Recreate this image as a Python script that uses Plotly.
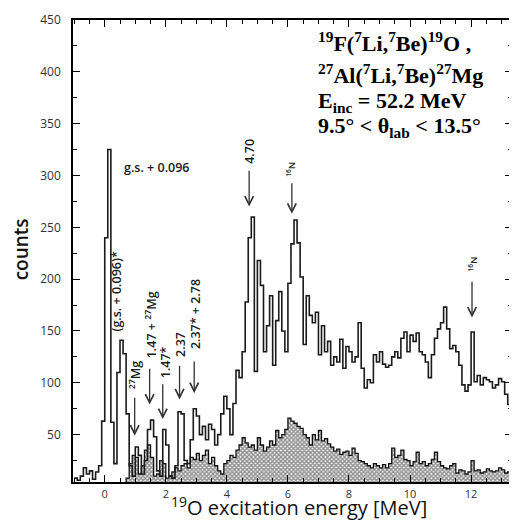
import numpy as np
import plotly.graph_objects as go

# ---- data: 0.1 MeV bins starting at -1.0 MeV ----
E_START = -1.0
BIN = 0.1

total_counts = [
    8, 6, 10, 18, 12, 15, 7, 14, 20, 63,          # -1.0 .. -0.1
    240, 325, 62, 22, 110, 141, 128, 70, 20, 10,   # 0.0 .. 0.9
    38, 30, 12, 25, 55, 64, 48, 15, 10, 55,       # 1.0 .. 1.9
    40, 10, 8, 20, 72, 70, 25, 22, 45, 75,        # 2.0 .. 2.9
    68, 50, 58, 45, 60, 55, 40, 50, 70, 87,       # 3.0 .. 3.9
    75, 50, 80, 112, 105, 130, 178, 240, 260, 111,  # 4.0 .. 4.9
    218, 194, 130, 155, 184, 117, 160, 188, 150, 130,  # 5.0 .. 5.9
    196, 234, 257, 235, 202, 137, 184, 165, 158, 168,  # 6.0 .. 6.9
    127, 155, 130, 140, 117, 125, 120, 142, 114, 135,  # 7.0 .. 7.9
    130, 120, 125, 158, 114, 95, 103, 100, 127, 120,   # 8.0 .. 8.9
    130, 118, 115, 117, 125, 130, 124, 143, 149, 130,  # 9.0 .. 9.9
    146, 140, 148, 130, 127, 120, 105, 127, 143, 152,  # 10.0 .. 10.9
    158, 173, 152, 133, 136, 130, 117, 98, 92, 98,     # 11.0 .. 11.9
    149, 101, 107, 98, 105, 103, 101, 95, 98, 104,     # 12.0 .. 12.9
    101, 89, 79,                                       # 13.0 .. 13.2
]

al_counts = [
    2, 2, 3, 2, 3, 2, 2, 3, 2, 2,       # -1.0 .. -0.1
    2, 2, 2, 2, 3, 3, 3, 8, 22, 30,     # 0.0 .. 0.9
    28, 12, 20, 35, 40, 28, 10, 12, 25, 22,   # 1.0 .. 1.9
    8, 10, 14, 18, 15, 20, 22, 18, 28, 26,    # 2.0 .. 2.9
    32, 25, 30, 35, 22, 28, 20, 15, 12, 22,   # 3.0 .. 3.9
    25, 30, 28, 35, 40, 47, 42, 38, 40, 35,   # 4.0 .. 4.9
    47, 40, 34, 38, 44, 40, 54, 47, 50, 55,   # 5.0 .. 5.9
    66, 63, 61, 58, 56, 50, 47, 40, 50, 45,   # 6.0 .. 6.9
    54, 44, 46, 41, 38, 34, 36, 31, 33, 34,   # 7.0 .. 7.9
    30, 37, 32, 25, 24, 22, 20, 18, 22, 20,   # 8.0 .. 8.9
    18, 21, 18, 22, 37, 28, 30, 35, 26, 25,   # 9.0 .. 9.9
    20, 24, 33, 22, 24, 20, 22, 26, 33, 24,   # 10.0 .. 10.9
    20, 18, 17, 20, 22, 13, 16, 15, 12, 14,   # 11.0 .. 11.9
    25, 15, 16, 13, 14, 17, 15, 14, 15, 18,   # 12.0 .. 12.9
    16, 13, 14,                               # 13.0 .. 13.2
]

x_tick_vals = [0, 2, 4, 6, 8, 10, 12]
y_tick_vals = [50, 100, 150, 200, 250, 300, 350, 400, 450]

# peak labels: (text, label x, label y, arrow x, arrow tail y, arrow head y)
peak_labels = [
    ("<sup>27</sup>Mg", 0.98, 108, 0.98, 87, 49),
    ("1.47 + <sup>27</sup>Mg", 1.50, 156, 1.47, 115, 79),
    ("1.47*", 1.98, 120, 1.90, 100, 65),
    ("2.37", 2.48, 137, 2.45, 118, 84),
    ("2.37* + 2.78", 2.98, 166, 2.93, 122, 90),
    ("4.70", 4.73, 323, 4.73, 306, 270),
    ("<sup>16</sup>N", 6.12, 306, 6.13, 294, 263),
    ("<sup>16</sup>N", 12.06, 215, 12.03, 199, 163),
]

# ---- build histogram step coordinates ----
n = len(total_counts)
edges = E_START + BIN * np.arange(n + 1)
y_tot = list(total_counts) + [total_counts[-1]]
y_al = list(al_counts) + [al_counts[-1]]

fig = go.Figure()
fig.add_trace(go.Scatter(
    x=edges, y=y_al, mode="lines", line_shape="hv",
    line=dict(color="#111111", width=1.3),
    fill="tozeroy",
    fillpattern=dict(shape="x", size=3, solidity=0.7, fgcolor="#222222", bgcolor="white"),
    showlegend=False, hoverinfo="skip",
))
fig.add_trace(go.Scatter(
    x=edges, y=y_tot, mode="lines", line_shape="hv",
    line=dict(color="#1a1a1a", width=1.6),
    showlegend=False, hoverinfo="skip",
))

label_font = dict(family="Open Sans", size=12.5, color="#1a1a1a", weight=600)
annotations = []
for text, lx, ly, axx, tail, head in peak_labels:
    small = "16" in text
    annotations.append(dict(
        x=lx, y=ly, xref="x", yref="y", text=text, showarrow=False,
        textangle=-90, xanchor="center", yanchor="middle",
        font=dict(family="Open Sans", size=9.5 if small else 12.5,
                  color="#1a1a1a", weight=600),
    ))
    annotations.append(dict(
        x=axx, y=head, ax=axx, ay=tail, xref="x", yref="y", axref="x", ayref="y",
        text="", showarrow=True, arrowhead=5, arrowsize=1.3, arrowwidth=1.3,
        arrowcolor="#333333",
    ))

annotations.append(dict(
    x=0.55, y=308, xref="x", yref="y", text="g.s. + 0.096", showarrow=False,
    xanchor="left", yanchor="middle", font=label_font,
))
annotations.append(dict(
    x=0.40, y=188, xref="x", yref="y", text="(g.s. + 0.096)*", showarrow=False,
    textangle=-90, xanchor="center", yanchor="middle", font=label_font,
))

serif = dict(family="Liberation Serif", size=22, color="black", weight="bold")
info_lines = [
    ("<sup>19</sup>F(<sup>7</sup>Li,<sup>7</sup>Be)<sup>19</sup>O ,", 0.953),
    ("<sup>27</sup>Al(<sup>7</sup>Li,<sup>7</sup>Be)<sup>27</sup>Mg", 0.884),
    ("E<sub>inc</sub> = 52.2 MeV", 0.822),
    ("9.5° &lt; θ<sub>lab</sub> &lt; 13.5°", 0.768),
]
for text, py in info_lines:
    annotations.append(dict(
        x=0.553, y=py, xref="paper", yref="paper", text=text, showarrow=False,
        xanchor="left", yanchor="middle", font=serif,
    ))

annotations.append(dict(
    x=-0.118, y=0.504, xref="paper", yref="paper", text="counts", showarrow=False,
    textangle=-90, xanchor="center", yanchor="middle",
    font=dict(family="Open Sans", size=19, color="#111111", weight=600),
))
annotations.append(dict(
    x=0.515, y=-0.053, xref="paper", yref="paper",
    text="<sup>19</sup>O excitation energy [MeV]", showarrow=False,
    xanchor="center", yanchor="middle",
    font=dict(family="Open Sans", size=20, color="#111111", weight=500),
))

# page body adds an 8 px margin, so the figure is 8 px smaller and offset
fig.update_layout(
    width=509, height=514,
    margin=dict(l=65, r=3, t=6, b=40),
    paper_bgcolor="white", plot_bgcolor="white",
    annotations=annotations,
    showlegend=False,
)
fig.update_xaxes(
    range=[-1.04, 13.34], tickvals=x_tick_vals,
    showline=True, linecolor="black", linewidth=1.5, mirror="allticks",
    ticks="inside", ticklen=7, tickwidth=1.2, tickcolor="black",
    minor=dict(ticks="inside", dtick=0.5, tick0=0, ticklen=4, tickwidth=1, tickcolor="black"),
    showgrid=False, zeroline=False,
    tickfont=dict(family="Open Sans", size=11, color="#333333"),
    ticklabelstandoff=1, ticklabeloverflow="allow",
)
fig.update_yaxes(
    range=[4.3, 450], tickvals=y_tick_vals,
    showline=True, linecolor="black", linewidth=1.5, mirror="allticks",
    ticks="inside", ticklen=7, tickwidth=1.2, tickcolor="black",
    minor=dict(ticks="inside", dtick=25, tick0=0, ticklen=4, tickwidth=1, tickcolor="black"),
    showgrid=False, zeroline=False,
    tickfont=dict(family="Open Sans", size=12, color="#333333"),
    ticklabelstandoff=8, ticklabeloverflow="allow",
)

fig.write_html("out.html")
